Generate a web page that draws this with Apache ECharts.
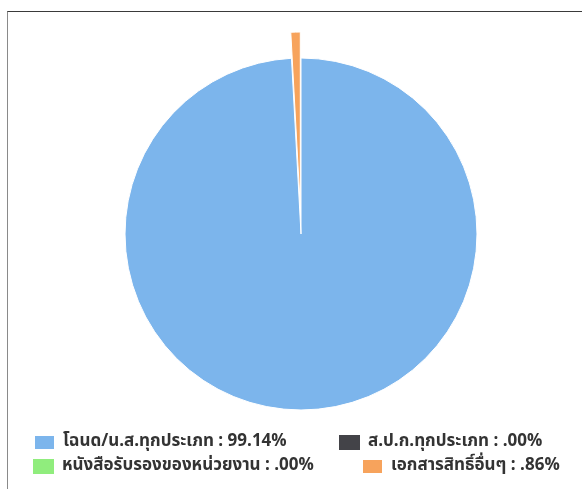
<!DOCTYPE html>
<html>
<head>
<meta charset="utf-8">
<script src="https://cdn.jsdelivr.net/npm/echarts@6/dist/echarts.min.js"></script>
<style>
  html, body { margin: 0; padding: 0; background: #fff; }
  #frame { position: absolute; left: 7px; top: 11px; width: 600px; height: 500px;
           border-top: 1px solid #3a3a3a; border-left: 1px solid #8a8a8a; }
  #chart { position: absolute; left: 0; top: 0; width: 582px; height: 489px; }
</style>
</head>
<body>
<div id="frame"></div>
<div id="chart"></div>
<script>
const categories = ['โฉนด/น.ส.ทุกประเภท', 'ส.ป.ก.ทุกประเภท', 'หนังสือรับรองของหน่วยงาน', 'เอกสารสิทธิ์อื่นๆ'];
const percentLabels = ['99.14%', '.00%', '.00%', '.86%'];
const values = [99.14, 0, 0, 0.86];
const colors = ['#7cb5ec', '#434348', '#90ed7d', '#f7a35c'];

const chart = echarts.init(document.getElementById('chart'), null, { renderer: 'canvas' });

const legendPos = [
  { left: 33, top: 434 },
  { left: 339, top: 434 },
  { left: 33, top: 458 },
  { left: 361, top: 458 }
];

const legends = categories.map((name, i) => ({
  data: [name],
  left: legendPos[i].left,
  top: legendPos[i].top,
  orient: 'horizontal',
  padding: 0,
  itemWidth: 21,
  itemHeight: 15,
  selectedMode: false,
  icon: 'rect',
  formatter: n => n + ' : ' + percentLabels[categories.indexOf(n)],
  textStyle: {
    fontSize: 17,
    fontWeight: 'bold',
    color: '#333333',
    fontFamily: "Tahoma, 'Noto Sans Thai', 'Noto Sans', sans-serif",
    padding: [0, 0, 0, 3]
  }
}));

chart.setOption({
  animation: false,
  color: colors,
  legend: legends,
  series: [{
    type: 'pie',
    center: [301, 234],
    radius: 176,
    startAngle: 90,
    clockwise: true,
    selectedMode: 'single',
    selectedOffset: 26,
    label: { show: false },
    labelLine: { show: false },
    emphasis: { disabled: true },
    itemStyle: { borderColor: '#ffffff', borderWidth: 1 },
    data: categories.map((name, i) => ({
      name: name,
      value: values[i],
      selected: i === 3,
      itemStyle: values[i] === 0 ? { borderWidth: 0 } : {}
    }))
  }]
});
</script>
</body>
</html>
